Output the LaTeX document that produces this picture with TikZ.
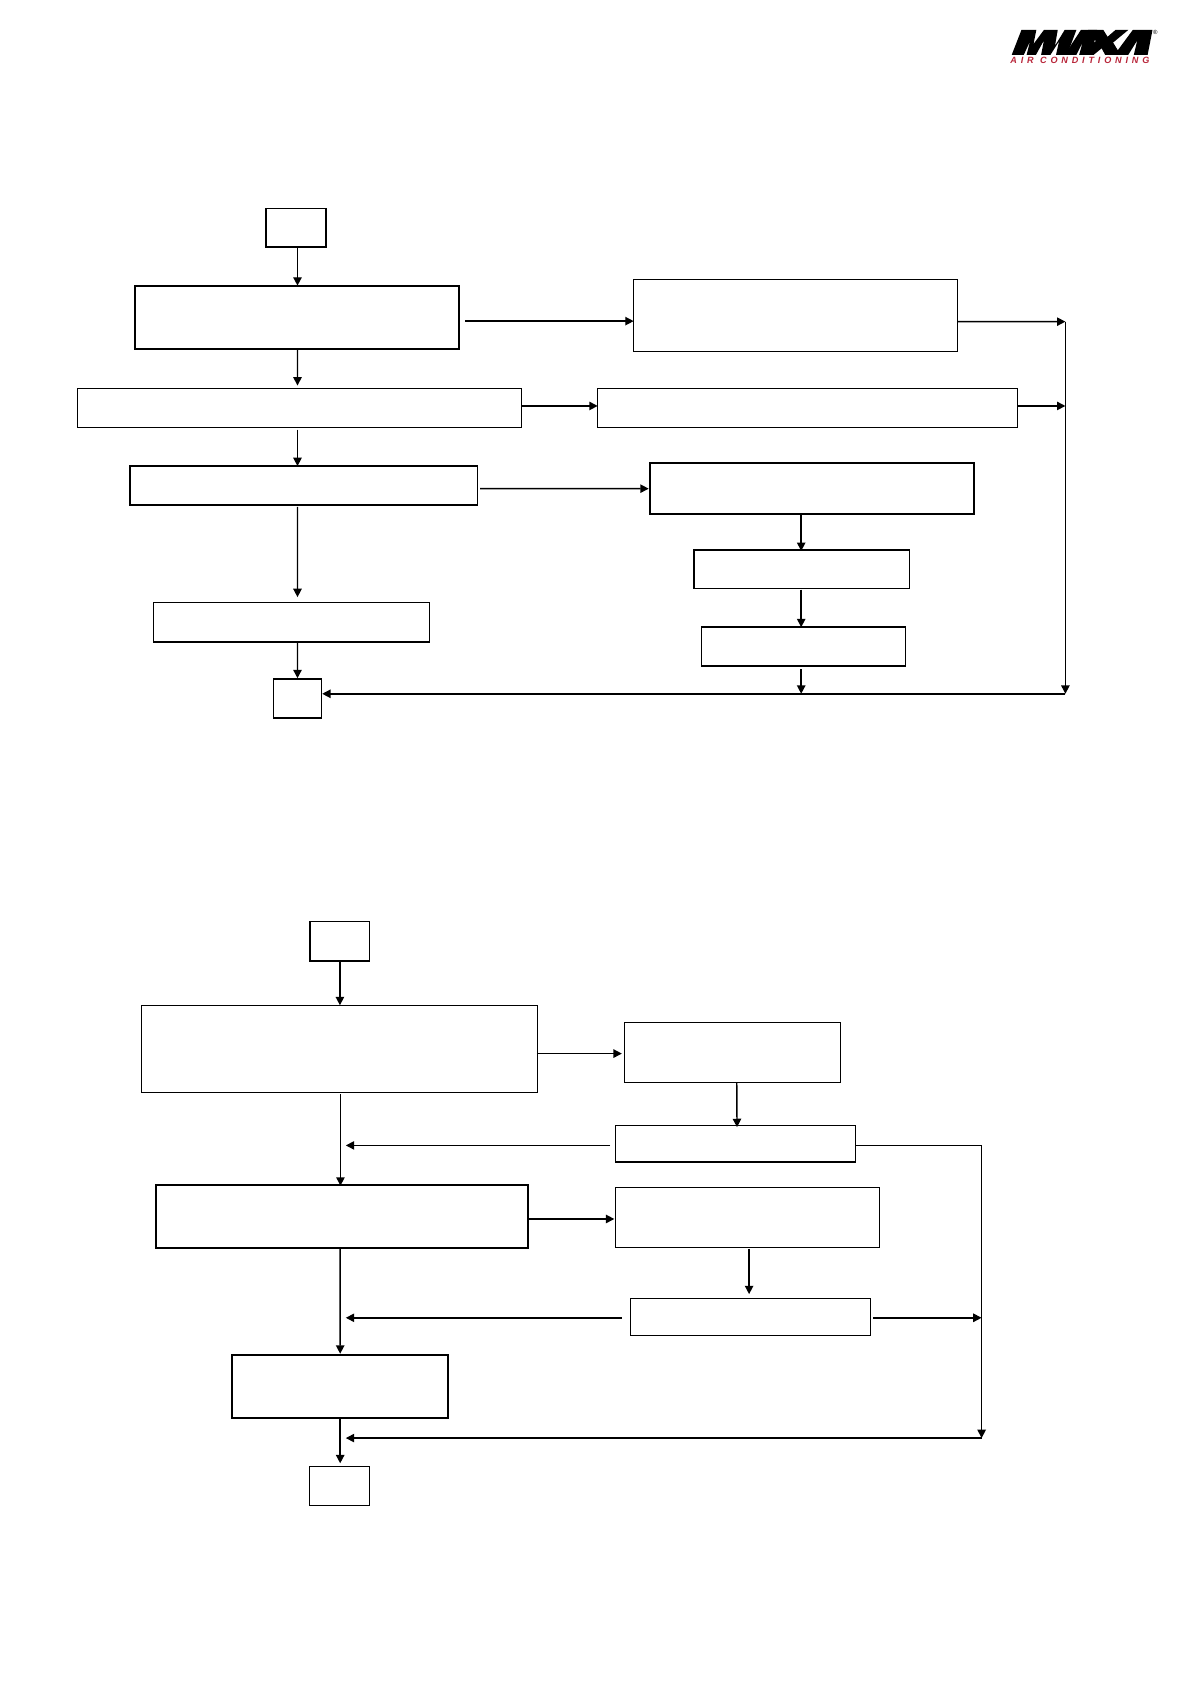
\documentclass[tikz,border=0pt]{standalone}
\usepackage{fontspec}
\setmainfont{Liberation Sans}
\newfontfamily\logofont[LetterSpace=42,Scale=1]{Liberation Sans}
\usetikzlibrary{arrows.meta,calc}
\definecolor{logored}{HTML}{B8263A}
\newcommand{\bx}[6]{%
  \pgfmathsetmacro{\cxx}{(#3+#5)/2}\pgfmathsetmacro{\cyy}{(#4+#6)/2}%
  \pgfmathsetmacro{\wdd}{(#5-#3)*0.537}\pgfmathsetmacro{\htt}{(#6-#4)*0.537}%
  \node[#1,minimum width=\wdd pt,minimum height=\htt pt] (#2) at (\cxx,\cyy) {};}
\tikzset{
  flowbox/.style={draw=black,fill=white,rectangle,inner sep=0pt,outer sep=0pt},
  thinbox/.style={flowbox,line width=0.45pt},
  midbox/.style={flowbox,line width=0.75pt},
  heavybox/.style={flowbox,line width=1.05pt},
  arr/.style={draw=black,line width=0.72pt,-{Triangle[length=4.2pt,width=4.2pt]}},
  ln/.style={draw=black,line width=0.72pt},
  logoshape/.style={fill=black,draw=none}
}
\begin{document}
\begin{tikzpicture}[x=0.537pt,y=-0.537pt]
\useasboundingbox (0,0) rectangle (1108,1568);
% upper chart
\bx{midbox}{s1}{247.5}{194}{303.5}{230}
\bx{heavybox}{a}{126}{266}{427}{325}
\bx{thinbox}{c}{590}{260.5}{891.5}{327}
\bx{thinbox}{b}{72}{362}{485.5}{398}
\bx{thinbox}{e}{556.5}{362}{947}{398}
\bx{midbox}{d}{121}{434}{444.5}{470}
\bx{heavybox}{g}{605}{431}{907}{478.5}
\bx{midbox}{h}{646}{512}{847}{548}
\bx{midbox}{i}{653}{584}{843}{620}
\bx{midbox}{f}{143}{561}{400}{598}
\bx{midbox}{e1}{254.5}{632}{299.5}{668.5}
\coordinate (tr) at (992,299.5);
\coordinate (mr) at (992,378);
\coordinate (br) at (992,646);
\coordinate (lm) at (746,646);
\draw[arr] ($(s1.south)+(1.5,1)$) -- ($(a.north)+(0.5,0)$);
\draw[arr] ($(a.south)+(0.5,1)$) -- ($(b.north)+(-1.75,-3)$);
\draw[arr] ($(b.south)+(-1.75,2)$) -- ($(d.north)+(-5.75,0)$);
\draw[arr] ($(d.south)+(-5.75,2)$) -- ($(f.north)+(5.5,-5)$);
\draw[arr] ($(f.south)+(5.5,0)$) -- ($(e1.north)+(0,-0.5)$);
\draw[arr] ($(a.east)+(6,3.5)$) -- ($(c.west)+(0,5.25)$);
\draw[arr] ($(b.east)+(0,-2)$) -- ($(e.west)+(0,-2)$);
\draw[arr] ($(d.east)+(2.5,3)$) -- ($(g.west)+(-1,0.25)$);
\draw[arr] ($(g.south)+(-10,0.5)$) -- ($(h.north)+(-0.5,1)$);
\draw[arr] ($(h.south)+(-0.5,1)$) -- ($(i.north)+(-2,0)$);
\draw[arr] ($(i.south)+(-2,3)$) -- (lm);
\draw[arr] ($(c.east)+(0,5.75)$) -- (tr);
\draw[arr] ($(e.east)+(0,-2)$) -- (mr);
\draw[arr] (tr) -- (br);
\draw[arr] (br) -- ($(e1.east)+(0.5,-4.25)$);
% lower chart
\bx{midbox}{s2}{288.5}{858}{344}{895}
\bx{thinbox}{p}{132}{936}{500}{1017}
\bx{thinbox}{q}{581}{952}{782.5}{1007.5}
\bx{midbox}{r}{573}{1048}{796.5}{1082}
\bx{heavybox}{t}{145}{1103}{491.5}{1162}
\bx{thinbox}{u}{573}{1105.5}{819}{1161.5}
\bx{thinbox}{v}{587}{1209}{810.5}{1243}
\bx{heavybox}{w}{216}{1261.5}{417}{1320.5}
\bx{thinbox}{x2}{288.5}{1365.5}{344}{1402}
\coordinate (rr) at (914,1066.5);
\coordinate (vr) at (914,1227);
\coordinate (rb) at (914,1339);
\coordinate (jp) at (322,1066.5);
\coordinate (jv) at (322,1227);
\coordinate (jb) at (322,1339);
\draw[arr] ($(s2.south)+(0.25,0)$) -- ($(p.north)+(0.5,0)$);
\draw[arr] ($(p.south)+(1,2)$) -- ($(t.north)+(-1.25,1)$);
\draw[arr] ($(t.south)+(-1.5,0)$) -- ($(w.north)+(0.25,-1)$);
\draw[arr] ($(w.south)+(0.25,1)$) -- ($(x2.north)+(0.5,-3)$);
\draw[arr] ($(p.east)+(0,4.5)$) -- ($(q.west)+(-2,1.25)$);
\draw[arr] ($(q.south)+(4.25,0.5)$) -- ($(r.north)+(1.5,1.5)$);
\draw[arr] ($(t.east)+(1.5,2.5)$) -- ($(u.west)+(-1,1.5)$);
\draw[arr] ($(u.south)+(1.5,1)$) -- ($(v.north)+(-1.25,-4)$);
\draw[arr] ($(r.west)+(-5,1.5)$) -- (jp);
\draw[arr] ($(v.west)+(-8,1)$) -- (jv);
\draw[arr] ($(v.east)+(2.5,1)$) -- (vr);
\draw[ln,line width=0.5pt] ($(r.east)+(0.5,1.5)$) -- (rr);
\draw[arr] (rr) -- (rb);
\draw[arr] (rb) -- (jb);
% logo
\begin{scope}[shift={(917.9,7.45)},x=0.1729pt,y=-0.18pt]
\fill[logoshape] (75,130) -- (103,61) -- (146,61) -- (138,100) -- (168,61) -- (208,61) -- (200,105) -- (228,61) -- (262,61) -- (235,130) -- (203,130) -- (212,92) -- (187,130) -- (160,130) -- (168,90) -- (145,130) -- (118,130) -- (128,92) -- (110,130) -- cycle;
\fill[logoshape] (228,130) -- (275,61) -- (322,61) -- (305,130) -- (270,130) -- (280,95) -- (262,130) -- cycle;
\fill[logoshape] (296,61) -- (340,61) -- (352,80) -- (375,61) -- (412,61) -- (368,96) -- (390,130) -- (345,130) -- (335,112) -- (312,130) -- (272,130) -- (318,92) -- cycle;
\fill[logoshape] (372,130) -- (425,61) -- (482,61) -- (468,130) -- (428,130) -- (438,90) -- (412,130) -- cycle;
\node[inner sep=0pt,font=\fontsize{3}{3}\selectfont] (reg) at (490,67) {®};
\end{scope}
\node[inner sep=0pt,anchor=west,text=logored,font=\logofont\bfseries\itshape\fontsize{4.55}{4.55}\selectfont] (air) at (940.5,56.5) {AIR CONDITIONING};
\end{tikzpicture}
\end{document}
